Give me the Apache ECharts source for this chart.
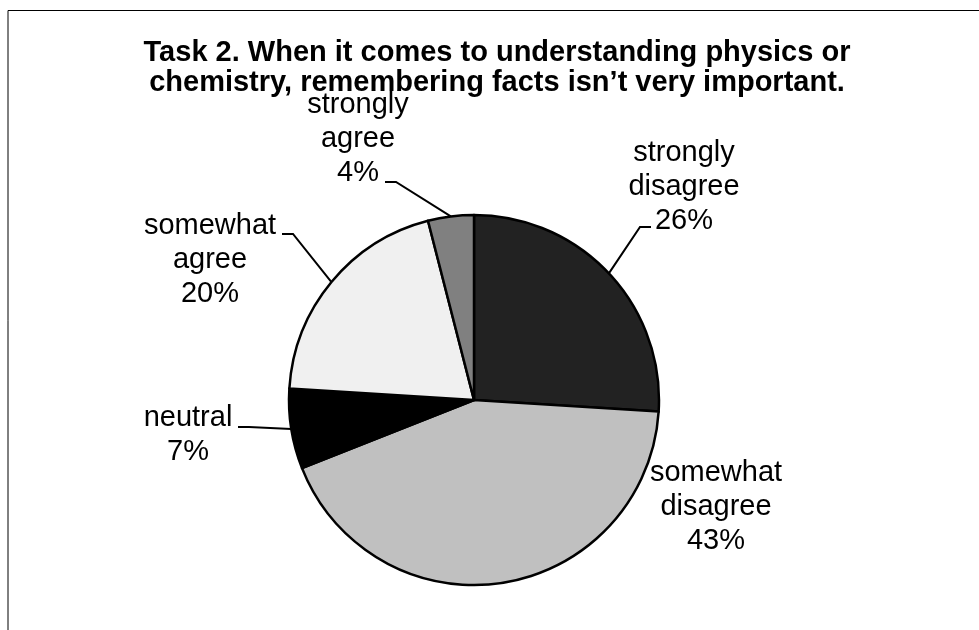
<!DOCTYPE html>
<html>
<head>
<meta charset="utf-8">
<script src="https://cdn.jsdelivr.net/npm/echarts@6/dist/echarts.min.js"></script>
<style>
html,body{margin:0;padding:0;background:#fff;}
#chart{width:979px;height:630px;}
</style>
</head>
<body>
<div id="chart"></div>
<script>
// ---- data ----
const titleLines = ['Task 2. When it comes to understanding physics or', 'chemistry, remembering facts isn\u2019t very important.'];
const categories = ['strongly disagree', 'somewhat disagree', 'neutral', 'somewhat agree', 'strongly agree'];
const values = [26, 43, 7, 20, 4];
const sliceColors = ['#222222', '#c0c0c0', '#000000', '#f0f0f0', '#808080'];

// ---- layout (offsets relative to pie centre) ----
const CX = 474, CY = 400, R = 185;
const labelCentres = [[210, -213], [242, 107], [-286, 35], [-264, -140], [-116, -261]];
const lineEnds = [[177, -173], null, [-236, 27], [-192, -166], [-89, -218]];

const chart = echarts.init(document.getElementById('chart'));

const data = categories.map((c, i) => ({
  name: c,
  value: values[i],
  itemStyle: { color: sliceColors[i] },
  labelLine: { show: lineEnds[i] !== null }
}));

chart.setOption({
  animation: false,
  backgroundColor: '#fff',
  title: {
    text: titleLines.join('\n'),
    left: 497,
    top: 38,
    textAlign: 'center',
    padding: 0,
    textStyle: {
      fontFamily: 'Liberation Sans, Arial, sans-serif',
      fontSize: 29,
      fontWeight: 'bold',
      color: '#000',
      lineHeight: 30
    }
  },
  graphic: [{
    type: 'polyline',
    silent: true,
    shape: { points: [[8, 640], [8, 10.5], [990, 10.5]] },
    style: { stroke: '#000', lineWidth: 1, fill: null }
  }],
  series: [{
    type: 'pie',
    center: [CX, CY],
    radius: [0, R],
    startAngle: 90,
    clockwise: true,
    avoidLabelOverlap: false,
    emphasis: { disabled: true },
    itemStyle: { borderColor: '#000', borderWidth: 2.5 },
    label: {
      show: true,
      position: 'outside',
      formatter: p => p.name.replace(' ', '\n') + '\n' + p.value + '%',
      fontFamily: 'Liberation Sans, Arial, sans-serif',
      fontSize: 29,
      lineHeight: 34,
      color: '#000',
      align: 'center'
    },
    labelLine: {
      length: 10,
      length2: 10,
      lineStyle: { color: '#000', width: 2 }
    },
    labelLayout: function (params) {
      const i = params.dataIndex;
      const lc = labelCentres[i];
      const out = {
        x: CX + lc[0],
        y: CY + lc[1],
        align: 'center',
        verticalAlign: 'middle'
      };
      const le = lineEnds[i];
      if (le && params.labelLinePoints) {
        const start = params.labelLinePoints[0];
        const ex = CX + le[0], ey = CY + le[1];
        const dir = ex < CX ? 1 : -1;
        out.labelLinePoints = [start, [ex + dir * 11, ey], [ex, ey]];
      }
      return out;
    },
    data: data
  }]
});
</script>
</body>
</html>
